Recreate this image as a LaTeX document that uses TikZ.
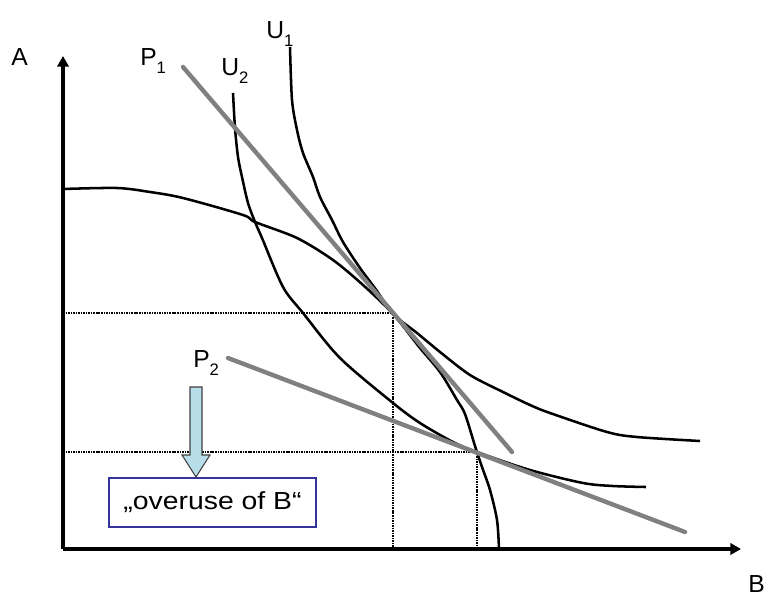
\documentclass[tikz,border=0pt]{standalone}
\usepackage{fontspec}
\setmainfont{Liberation Sans}
\usepackage{graphicx}
\usepackage{tikz}
\usetikzlibrary{arrows.meta,calc,positioning}
\definecolor{pricegray}{RGB}{128,128,128}
\definecolor{arrowfill}{RGB}{183,222,232}
\definecolor{boxblue}{RGB}{51,51,153}
\newcommand{\sublab}[2]{#1\raisebox{-6pt}{\fontsize{12.5}{14}\selectfont #2}}

\begin{document}
\begin{tikzpicture}[x=0.75pt,y=-0.75pt,>={Triangle[length=8pt,width=8.5pt]},
  font=\fontsize{18.5}{21}\selectfont,
  curve/.style={line width=1.9pt,line join=round},
  price/.style={line width=3.3pt,pricegray,line cap=round},
  guide/.style={line width=2pt,dash pattern=on 1.2pt off 0.7pt},
  tag/.style={inner sep=0pt,anchor=base west}]
  \useasboundingbox (0,0) rectangle (766,596);
  \coordinate (O) at (63,549); \coordinate (T1) at (393,313); \coordinate (T2) at (477,452);
  \coordinate (P1a) at (183,67); \coordinate (P1b) at (512,452);
  \coordinate (P2a) at (228,358); \coordinate (P2b) at (685,532);
  % guide lines from the two tangency points
  \foreach \t in {T1,T2} { \draw[guide] (\t -| O) -- (\t) -- (\t |- O); }
  % axes
  \draw[->,line width=2.4pt] (O) -- (63,56) coordinate (Atip);
  \draw[->,line width=2.4pt] (O) -- (741,549) coordinate (Btip);
  % production frontier
  \draw[curve] plot[smooth,tension=0.5] coordinates {(63,189) (117,188) (150,192) (183,198) (243,215) (255,222) (297,238) (333,260) (363,285) (393,314) (420,348) (440,372) (457,400) (465,414) (475,446) (482,467) (490,490) (497,520) (499,549)};
  % indifference curves
  \draw[curve] plot[smooth,tension=0.5] coordinates {(290,47) (292,100) (297,130) (303,153) (313,177) (320,197) (332,220) (343,242) (360,268) (377,291) (393,314) (417,333) (440,352) (470,375) (503,392) (530,405) (550,413) (607,432) (637,437) (700,441)};
  \draw[curve] plot[smooth,tension=0.5] coordinates {(233,93) (235,128) (238,157) (242,177) (248,203) (255,222) (262,238) (283,287) (303,313) (340,358) (393,403) (420,423) (453,442) (477,452) (530,470) (583,483) (613,486) (646,487)};
  % price lines
  \draw[price] (P1a) -- (P1b);
  \draw[price] (P2a) -- (P2b);
  % labels
  \node[tag] (labA) at (11,65) {A};
  \node[tag] (labB) at (748,592) {B};
  \node[tag] (labP1) at (140,65) {\sublab{P}{1}};
  \node[tag] (labP2) at (193,367) {\sublab{P}{2}};
  \node[tag] (labU1) at (266,38) {\sublab{U}{1}};
  \node[tag] (labU2) at (221,75) {\sublab{U}{2}};
  % note box with block arrow
  \node[draw=boxblue,line width=1.1pt,fill=white,minimum width=155pt,minimum height=37pt,inner sep=0pt] (overuse) at (212.5,502.5) {\scalebox{1.15}[1]{„overuse of B“}};
  \draw[black!75,fill=arrowfill,line width=0.8pt] (190,387) -- (202,387) -- (202,455) -- (210,455) -- (196,477) -- (182,455) -- (190,455) -- cycle;
\end{tikzpicture}
\end{document}
